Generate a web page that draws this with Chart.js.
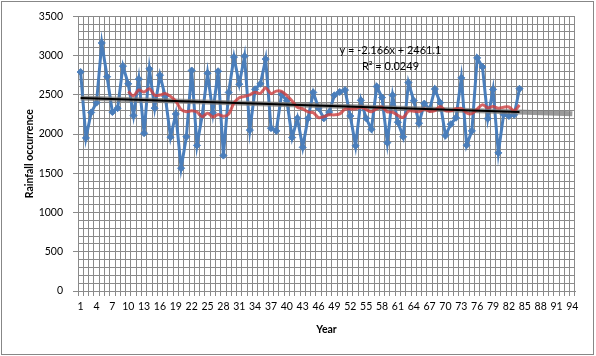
<!DOCTYPE html>
<html>
<head>
<meta charset="utf-8">
<script src="https://cdn.jsdelivr.net/npm/chart.js@4.4.1/dist/chart.umd.min.js"></script>
<style>
  html, body { margin: 0; padding: 0; background: #fff; }
  #wrap { position: relative; width: 596px; height: 356px; }
</style>
</head>
<body>
<div id="wrap"><canvas id="c" width="596" height="356"></canvas></div>
<script>
// Categories (years 1..94)
const categories = Array.from({length: 94}, (_, i) => String(i + 1));

// Rainfall occurrence, years 1..84
const rainfall = [
  2790, 1950, 2275, 2400, 3160, 2730, 2280, 2330, 2865, 2640,
  2235, 2700, 2010, 2830, 2330, 2750, 2480, 1960, 2255, 1565,
  1965, 2810, 1855, 2240, 2775, 2270, 2800, 1725, 2530, 2980,
  2635, 2990, 2050, 2570, 2640, 2955, 2075, 2040, 2505, 2425,
  1955, 2200, 1830, 2200, 2530, 2330, 2200, 2280, 2494, 2536,
  2560, 2230, 1850, 2430, 2200, 2060, 2605, 2465, 1890, 2494,
  2150, 1965, 2655, 2425, 2138, 2388, 2315, 2573, 2400, 1980,
  2125, 2208, 2715, 1858, 2040, 2970, 2854, 2197, 2568, 1760,
  2250, 2229, 2245, 2577
];

// 10-year moving average (red line), years 10..84
const movingAverage = [
  2542, 2487, 2562, 2535, 2578, 2495, 2497, 2517, 2480, 2419,
  2312, 2285, 2296, 2280, 2221, 2266, 2218, 2250, 2226, 2254,
  2395, 2462, 2480, 2500, 2533, 2519, 2588, 2515, 2547, 2544,
  2489, 2421, 2342, 2320, 2283, 2272, 2209, 2222, 2246, 2244,
  2256, 2316, 2319, 2321, 2344, 2311, 2284, 2325, 2343, 2283,
  2278, 2237, 2211, 2291, 2291, 2285, 2318, 2289, 2299, 2350,
  2299, 2296, 2321, 2327, 2270, 2260, 2318, 2372, 2335, 2352,
  2330, 2342, 2344, 2297, 2369
];
const maStart = 10;

// Linear trend endpoints (y = -2.166x + 2461.1)
const trendYears = ['1', '84'];
const trendValues = [2458.9, 2279.2];
const forecastYears = ['1', '94'];
const forecastValues = [2458.9, 2257.5];

const yTickLabels = [0, 500, 1000, 1500, 2000, 2500, 3000, 3500];
const equationText = 'y = -2.166x + 2461.1';
const r2Text = 'R\u00B2 = 0.0249';

const blueData = categories.map((c, i) => i < rainfall.length ? rainfall[i] : null);
const redData = categories.map((c, i) => {
  const k = i + 1 - maStart;
  return (k >= 0 && k < movingAverage.length) ? movingAverage[k] : null;
});
const trendData = trendYears.map((x, i) => ({x, y: trendValues[i]}));
const forecastData = forecastYears.map((x, i) => ({x, y: forecastValues[i]}));

const GRID = '#8a8a8a';
const FONT = 'Lato, "Open Sans", sans-serif';
const isMajor = (v) => yTickLabels.includes(Math.round(v));

const framePlugin = {
  id: 'frame',
  beforeDraw(chart) {
    const ctx = chart.ctx;
    ctx.save();
    ctx.fillStyle = '#fff';
    ctx.fillRect(0, 0, chart.width, chart.height);
    ctx.strokeStyle = '#878787';
    ctx.lineWidth = 1;
    ctx.strokeRect(1.5, 1.5, chart.width - 4, chart.height - 3);
    ctx.restore();
  },
  afterDatasetsDraw(chart) {
    const ctx = chart.ctx;
    const xs = chart.scales.x, ys = chart.scales.y;
    const cx = xs.getPixelForValue(58.6);
    ctx.save();
    ctx.fillStyle = '#000';
    ctx.font = '11px ' + FONT;
    ctx.textAlign = 'center';
    ctx.textBaseline = 'middle';
    ctx.fillText(equationText, cx, ys.getPixelForValue(3065));
    ctx.fillText(r2Text, cx, ys.getPixelForValue(2860));
    ctx.restore();
  }
};

new Chart(document.getElementById('c'), {
  type: 'line',
  data: {
    labels: categories,
    datasets: [
      {
        label: 'Trend forecast',
        data: forecastData,
        borderColor: 'rgba(120,120,120,0.75)',
        borderWidth: 5,
        pointRadius: 0,
        order: 3
      },
      {
        label: 'Rainfall',
        data: blueData,
        borderColor: '#4a7ebb',
        backgroundColor: '#4a7ebb',
        borderWidth: 3,
        pointStyle: 'rectRot',
        pointRadius: 3.5,
        pointBorderWidth: 1,
        tension: 0,
        order: 4
      },
      {
        label: '10 per. Mov. Avg.',
        data: redData,
        borderColor: 'rgba(205,62,62,0.8)',
        borderWidth: 3,
        pointRadius: 0,
        tension: 0.3,
        order: 2
      },
      {
        label: 'Linear trend',
        data: trendData,
        borderColor: '#000',
        borderWidth: 2,
        pointRadius: 0,
        order: 1
      }
    ]
  },
  options: {
    responsive: false,
    animation: false,
    layout: { padding: { left: 0, top: 16, right: 21, bottom: 0 } },
    plugins: {
      legend: { display: false },
      tooltip: { enabled: false }
    },
    scales: {
      x: {
        type: 'category',
        offset: true,
        grid: { offset: true, color: GRID, tickColor: GRID, tickLength: 5, lineWidth: 1 },
        border: { color: GRID },
        ticks: {
          autoSkip: false,
          maxRotation: 0,
          minRotation: 0,
          padding: 4,
          color: '#000',
          font: { family: FONT, size: 10.5 },
          callback: function (v, i) { return i % 3 === 0 ? categories[i] : ''; }
        },
        title: {
          display: true,
          text: 'Year',
          color: '#000',
          font: { family: FONT, size: 10.5, weight: 'bold' },
          padding: { top: 0, bottom: 20 }
        },
        afterFit(scale) { scale.height = 65; }
      },
      y: {
        min: 0,
        max: 3500,
        grid: {
          color: GRID,
          lineWidth: 1,
          tickLength: 5,
          tickColor: (ctx) => (ctx.tick && isMajor(ctx.tick.value)) ? GRID : 'rgba(0,0,0,0)'
        },
        border: { color: GRID },
        ticks: {
          stepSize: 100,
          autoSkip: false,
          padding: 10,
          color: '#000',
          font: { family: FONT, size: 10.5 },
          callback: (v) => isMajor(v) ? String(Math.round(v)) : ''
        },
        title: {
          display: true,
          text: 'Rainfall occurrence',
          color: '#000',
          font: { family: FONT, size: 10.5, weight: 'bold' },
          padding: { top: 23, bottom: 0 }
        },
        afterFit(scale) { scale.width = 78; }
      }
    }
  },
  plugins: [framePlugin]
});
</script>
</body>
</html>
